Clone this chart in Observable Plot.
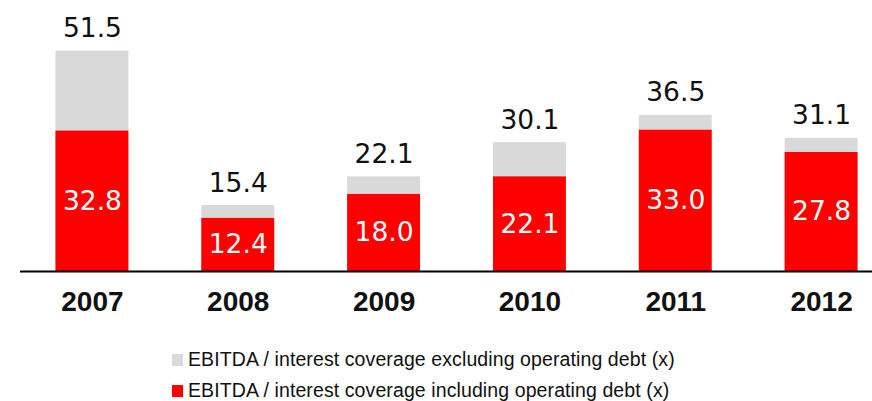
<!DOCTYPE html>
<html>
<head>
<meta charset="utf-8">
<script src="https://cdn.jsdelivr.net/npm/d3@7"></script>
<script src="https://cdn.jsdelivr.net/npm/@observablehq/plot@0.6"></script>
<style>
  html, body { margin: 0; padding: 0; background: #fff; }
  #legend { padding-top: 14px; padding-left: 172px; font-family: "Liberation Sans", sans-serif; font-size: 19.5px; letter-spacing: 0.1px; color: #111; }
  .row { height: 31px; display: flex; align-items: center; }
  .sw { width: 11px; height: 12px; margin-right: 5px; }
</style>
</head>
<body>
<div id="chart"></div>
<div id="legend"></div>
<script>
const years = ["2007", "2008", "2009", "2010", "2011", "2012"];
const including = [32.8, 12.4, 18.0, 22.1, 33.0, 27.8];
const excluding = [51.5, 15.4, 22.1, 30.1, 36.5, 31.1];
const seriesNames = [
  "EBITDA / interest coverage excluding operating debt (x)",
  "EBITDA / interest coverage including operating debt (x)"
];
const seriesColors = ["#d9d9d9", "#ff0000"];

const data = years.map((year, i) => ({year, inc: including[i], exc: excluding[i]}));

const chart = Plot.plot({
  width: 872,
  height: 330,
  marginTop: 0,
  marginBottom: 59,
  marginLeft: 20,
  marginRight: 0,
  style: {fontFamily: "DejaVu Sans", background: "#fff"},
  x: {type: "band", domain: years, range: [19, 894], paddingInner: 0.5, paddingOuter: 0.25, round: false},
  y: {domain: [0, 63.3], axis: null},
  marks: [
    Plot.barY(data, {x: "year", y: "exc", fill: seriesColors[0]}),
    Plot.barY(data, {x: "year", y: "inc", fill: seriesColors[1]}),
    Plot.text(data, {x: "year", y: "exc", text: d => d.exc.toFixed(1), dy: -14, lineAnchor: "bottom", fontSize: 26.5, fill: "#111"}),
    Plot.text(data, {x: "year", y: d => d.inc / 2, text: d => d.inc.toFixed(1), fontSize: 26.5, fill: "#fff"}),
    Plot.ruleY([0], {stroke: "#000", strokeWidth: 2}),
    Plot.axisX({tickSize: 0, tickPadding: 20, fontSize: 28, fontWeight: "bold", fontFamily: "Liberation Sans", fill: "#111", label: null})
  ]
});
document.getElementById("chart").appendChild(chart);

const legend = document.getElementById("legend");
seriesNames.forEach((name, i) => {
  const row = document.createElement("div");
  row.className = "row";
  const sw = document.createElement("div");
  sw.className = "sw";
  sw.style.background = seriesColors[i];
  const t = document.createElement("span");
  t.textContent = name;
  row.appendChild(sw);
  row.appendChild(t);
  legend.appendChild(row);
});
</script>
</body>
</html>
